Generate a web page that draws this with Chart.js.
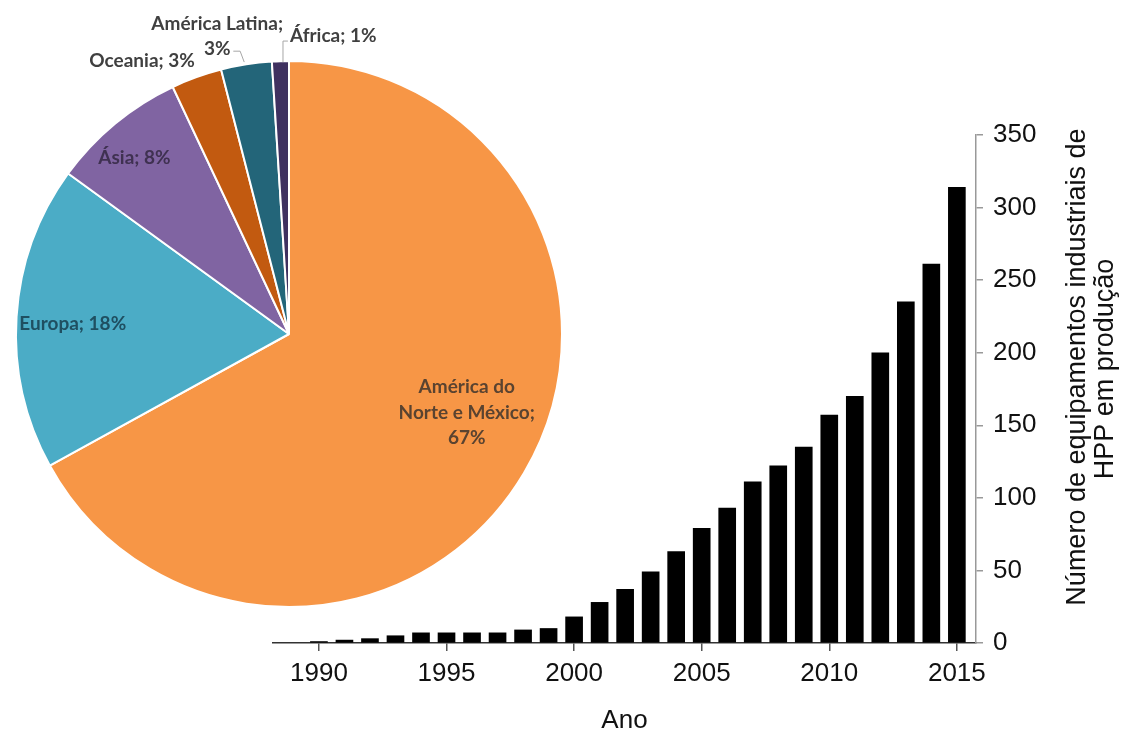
<!DOCTYPE html>
<html>
<head>
<meta charset="utf-8">
<script src="https://cdn.jsdelivr.net/npm/chart.js@4.4.0/dist/chart.umd.min.js"></script>
<style>
  html, body { margin: 0; padding: 0; background: #fff; }
  #wrap { position: relative; width: 1126px; height: 731px; overflow: hidden; }
  .box { position: absolute; left: 0; top: 0; }
</style>
</head>
<body>
<div id="wrap">
  <div class="box" style="width:1126px;height:740px"><canvas id="chart_bar"></canvas></div>
  <div class="box" style="width:578px;height:670px"><canvas id="chart_pie"></canvas></div>
</div>
<script>
/* data */
var regions = ['América do Norte e México', 'Europa', 'Ásia', 'Oceania', 'América Latina', 'África'];
var shares = [67, 18, 8, 3, 3, 1];

var years = [1990, 1991, 1992, 1993, 1994, 1995, 1996, 1997, 1998, 1999, 2000, 2001, 2002,
             2003, 2004, 2005, 2006, 2007, 2008, 2009, 2010, 2011, 2012, 2013, 2014, 2015];
var units = [1, 2, 3, 5, 7, 7, 7, 7, 9, 10, 18, 28, 37,
             49, 63, 79, 93, 111, 122, 135, 157, 170, 200, 235, 261, 314];

var yearTicks = [1990, 1995, 2000, 2005, 2010, 2015];
var unitTicks = [0, 50, 100, 150, 200, 250, 300, 350];

var yTitle = ['Número de equipamentos industriais de', 'HPP em produção'];
var xTitle = 'Ano';

/* look */
var sliceColors = ['#F79646', '#4BACC6', '#8064A2', '#C25A10', '#236579', '#3F3160'];
var labelColors = ['#5a4330', '#1f4f61', '#3f3151', '#404040', '#404040', '#404040'];
// where each label sits, as offset from the pie centre in radius units
var labelOffset = [[0.651, 0.288], [-0.792, -0.036], [-0.566, -0.646], [-0.538, -1.0], [-0.263, -1.091], [0.162, -1.091]];
// line breaks (after word n)
var labelBreaks = [[2, 5], [], [], [], [2], []];
var leaders = [null, null, null, null,
  [[-0.204, -1.036], [-0.179, -1.036], [-0.164, -0.996]],
  [[-0.004, -1.073], [-0.022, -1.073], [-0.022, -0.996]]];

var pieLabels = {
    id: 'pieLabels',
    afterDatasetsDraw: function(chart) {
        var ctx = chart.ctx;
        var meta = chart.getDatasetMeta(0);
        ctx.save();
        ctx.font = "bold 19px Lato";
        ctx.textAlign = 'center';
        ctx.textBaseline = 'middle';
        meta.data.forEach(function(arc, i) {
            var r = arc.outerRadius;
            var words = (regions[i] + '; ' + shares[i] + '%').split(' ');
            var lines = [], cur = [];
            words.forEach(function(w, k) {
                cur.push(w);
                if (labelBreaks[i].indexOf(k + 1) >= 0) { lines.push(cur.join(' ')); cur = []; }
            });
            if (cur.length) lines.push(cur.join(' '));
            var x = arc.x + labelOffset[i][0] * r;
            var y = arc.y + labelOffset[i][1] * r;
            var lh = 25.5;
            var y0 = y - (lines.length - 1) * lh / 2;
            ctx.fillStyle = labelColors[i];
            lines.forEach(function(t, k) { ctx.fillText(t, x, y0 + k * lh); });
            if (leaders[i]) {
                ctx.strokeStyle = '#a6a6a6';
                ctx.lineWidth = 1;
                ctx.beginPath();
                leaders[i].forEach(function(p, k) {
                    var px = arc.x + p[0] * r, py = arc.y + p[1] * r;
                    if (k === 0) ctx.moveTo(px, py); else ctx.lineTo(px, py);
                });
                ctx.stroke();
            }
        });
        ctx.restore();
    }
};

var yTitlePlugin = {
    id: 'yTitle',
    afterDraw: function(chart) {
        var ctx = chart.ctx;
        ctx.save();
        ctx.translate(1092, 369);
        ctx.rotate(-Math.PI / 2);
        ctx.font = "27px 'Liberation Sans', Arial";
        ctx.fillStyle = '#111';
        ctx.textAlign = 'center';
        ctx.textBaseline = 'middle';
        ctx.fillText(yTitle[0], 2, -14);
        ctx.fillText(yTitle[1], 0, 14);
        ctx.restore();
    }
};

new Chart(document.getElementById('chart_pie'), {
    type: 'pie',
    data: {
        labels: regions,
        datasets: [{
            data: shares,
            backgroundColor: sliceColors,
            borderColor: '#ffffff',
            borderWidth: 2
        }]
    },
    options: {
        responsive: true,
        maintainAspectRatio: false,
        animation: false,
        layout: { padding: { left: 15, right: 15, top: 60, bottom: 62 } },
        plugins: { legend: { display: false }, tooltip: { enabled: false } }
    },
    plugins: [pieLabels]
});

new Chart(document.getElementById('chart_bar'), {
    type: 'bar',
    data: {
        datasets: [{
            data: years.map(function(y, i) { return { x: y, y: units[i] }; }),
            backgroundColor: '#000000',
            barThickness: 17
        }]
    },
    options: {
        responsive: true,
        maintainAspectRatio: false,
        animation: false,
        layout: { padding: { left: 273, top: 135, right: 0, bottom: 0 } },
        plugins: { legend: { display: false }, tooltip: { enabled: false } },
        scales: {
            x: {
                type: 'linear',
                min: 1988.2,
                max: 2015.75,
                offset: false,
                grid: { offset: false, drawOnChartArea: false, drawTicks: true, tickLength: 8, color: '#555', lineWidth: 1.5 },
                border: { color: '#333', width: 1.5 },
                ticks: {
                    font: { size: 26, family: "'Liberation Sans', Arial" }, color: '#111', padding: 7, maxRotation: 0,
                    callback: function(v) { return String(v); }
                },
                afterBuildTicks: function(scale) {
                    scale.ticks = yearTicks.map(function(v) { return { value: v }; });
                },
                title: { display: true, text: xTitle, color: '#111', padding: { top: 0, bottom: 4 },
                         font: { size: 26, family: "'Liberation Sans', Arial" } },
                afterFit: function(scale) { scale.height = 97; }
            },
            y: {
                position: 'right',
                min: 0,
                max: 350,
                grid: { drawOnChartArea: false, drawTicks: true, tickLength: 7, color: '#999', lineWidth: 1.5 },
                border: { color: '#999', width: 1.5 },
                ticks: { font: { size: 26, family: "'Liberation Sans', Arial" }, color: '#111', padding: 10 },
                afterBuildTicks: function(scale) {
                    scale.ticks = unitTicks.map(function(v) { return { value: v }; });
                },
                afterFit: function(scale) { scale.width = 150; }
            }
        }
    },
    plugins: [yTitlePlugin]
});
</script>
</body>
</html>
